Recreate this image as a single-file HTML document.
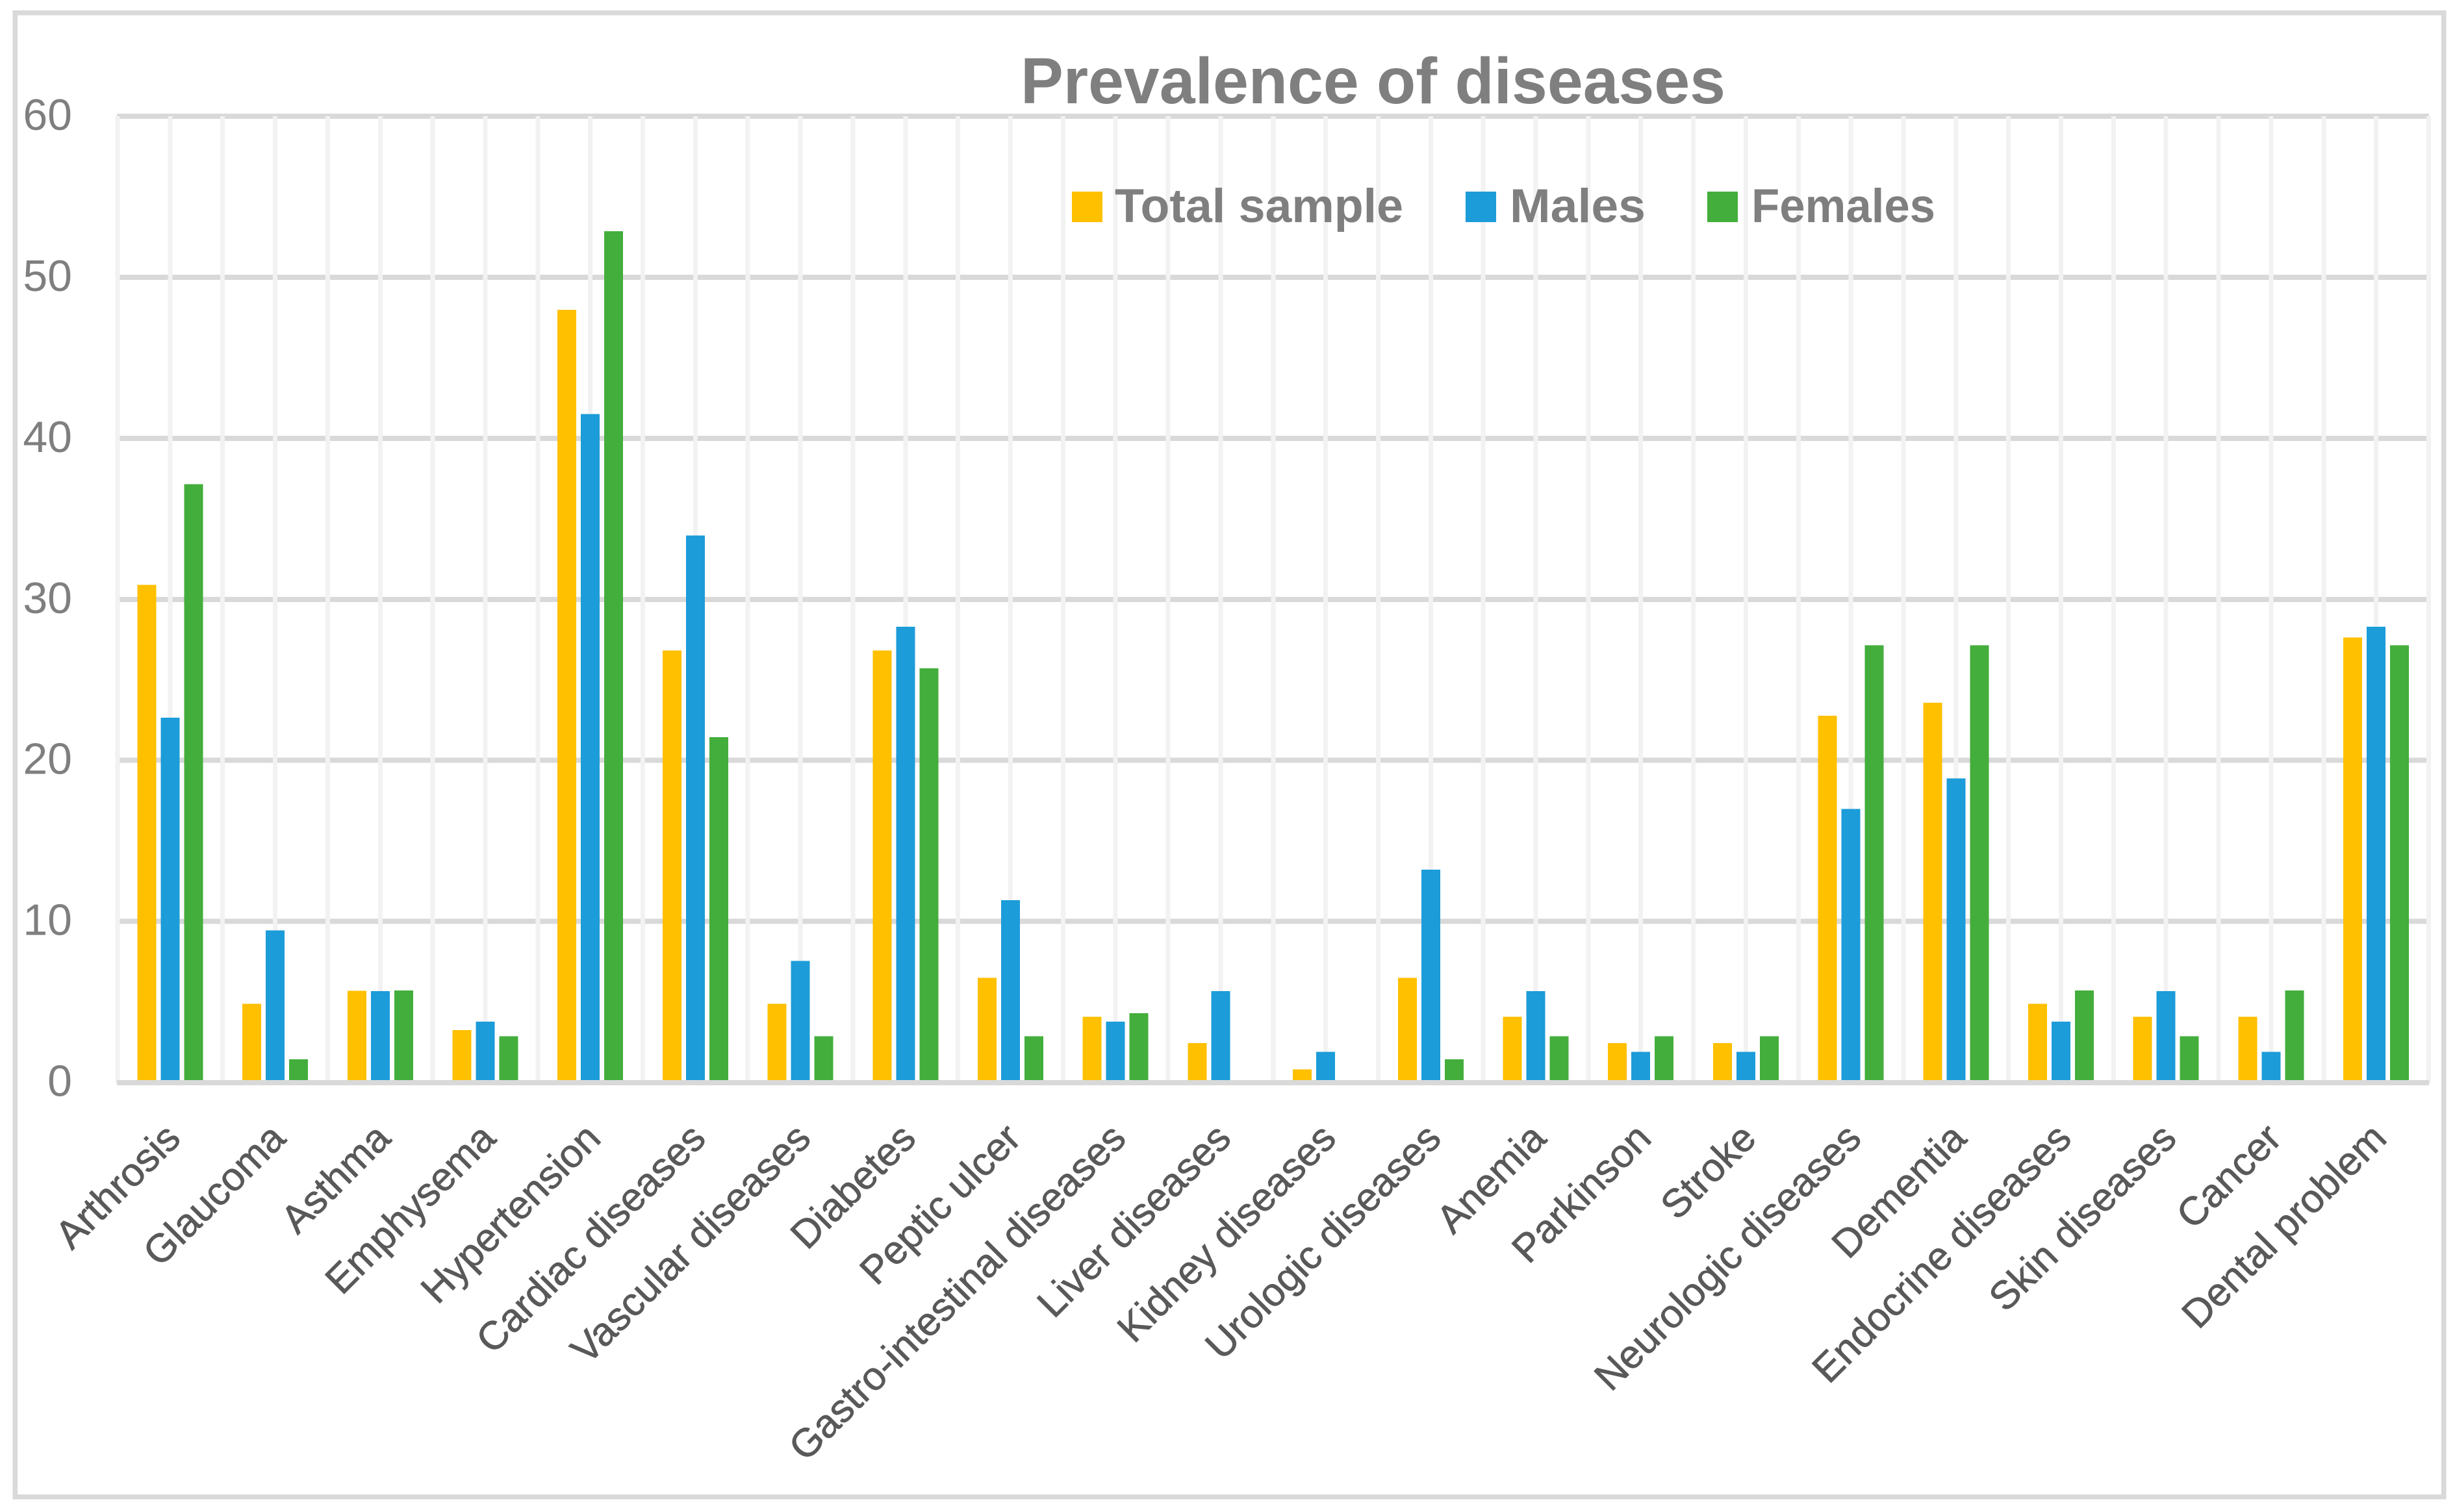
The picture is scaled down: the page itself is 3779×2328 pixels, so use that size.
<!DOCTYPE html>
<html>
<head>
<meta charset="utf-8">
<title>Prevalence of diseases</title>
<style>
html,body{margin:0;padding:0;background:#fff;}
svg{display:block;}
text{font-family:"Liberation Sans",sans-serif;}
rect{shape-rendering:crispEdges;}
</style>
</head>
<body>
<svg id="chart" xmlns="http://www.w3.org/2000/svg" width="3779" height="2328" viewBox="0 0 3779 2328">
  <rect x="0" y="0" width="3779" height="2328" fill="#ffffff"/>
  <rect x="23" y="19.5" width="3738.5" height="2285" fill="none" stroke="#d9d9d9" stroke-width="7.5"/>
  <g id="h-grid"></g>
  <g id="v-grid"></g>
  <g id="y-labels"></g>
  <g id="bars"></g>
  <rect x="180" y="1663" width="3559" height="8" fill="#d9d9d9"/>
  <g id="x-labels"></g>
  <text x="1571" y="159" font-size="100" font-weight="700" fill="#7f7f7f" textLength="1085" lengthAdjust="spacingAndGlyphs">Prevalence of diseases</text>
  <g>
    <g>
      <rect x="1650" y="295" width="47" height="47" fill="#ffc000"/>
      <text x="1716" y="342" font-size="73" font-weight="700" fill="#7f7f7f" textLength="444" lengthAdjust="spacingAndGlyphs">Total sample</text>
    </g>
    <g>
      <rect x="2256" y="295" width="47" height="47" fill="#1c9cd9"/>
      <text x="2324" y="342" font-size="73" font-weight="700" fill="#7f7f7f" textLength="209" lengthAdjust="spacingAndGlyphs">Males</text>
    </g>
    <g>
      <rect x="2628" y="295" width="47" height="47" fill="#43ae3b"/>
      <text x="2696" y="342" font-size="73" font-weight="700" fill="#7f7f7f" textLength="283" lengthAdjust="spacingAndGlyphs">Females</text>
    </g>
  </g>
</svg>
<script>
const categories = ["Arthrosis","Glaucoma","Asthma","Emphysema","Hypertension","Cardiac diseases","Vascular diseases","Diabetes","Peptic ulcer","Gastro-intestinal diseases","Liver diseases","Kidney diseases","Urologic diseases","Anemia","Parkinson","Stroke","Neurologic diseases","Dementia","Endocrine diseases","Skin diseases","Cancer","Dental problem"];
const totalSample = [30.89,4.88,5.69,3.25,47.97,26.83,4.88,26.83,6.5,4.07,2.44,0.81,6.5,4.07,2.44,2.44,22.76,23.58,4.88,4.07,4.07,27.64];
const males = [22.64,9.43,5.66,3.77,41.51,33.96,7.55,28.3,11.32,3.77,5.66,1.89,13.21,5.66,1.89,1.89,16.98,18.87,3.77,5.66,1.89,28.3];
const females = [37.14,1.43,5.71,2.86,52.86,21.43,2.86,25.71,2.86,4.29,0,0,1.43,2.86,2.86,2.86,27.14,27.14,5.71,2.86,5.71,27.14];
const yTicks = [0,10,20,30,40,50,60];

const NS = "http://www.w3.org/2000/svg";
const plotLeft = 181, plotRight = 3738.5, plotTop = 179, plotBottom = 1666.5;
const yMax = 60;
const catWidth = (plotRight - plotLeft) / categories.length;
const barWidth = 29, barPitch = 36;
const seriesList = [
  { key: "total-sample", values: totalSample, color: "#ffc000" },
  { key: "males", values: males, color: "#1c9cd9" },
  { key: "females", values: females, color: "#43ae3b" }
];
function yScale(v) { return plotBottom - (v / yMax) * (plotBottom - plotTop); }
function xCenter(i) { return plotLeft + catWidth * (i + 0.5); }
function make(tag, attrs) {
  const el = document.createElementNS(NS, tag);
  for (const k in attrs) el.setAttribute(k, attrs[k]);
  return el;
}

const hGrid = document.getElementById("h-grid");
const vGrid = document.getElementById("v-grid");
const yLabels = document.getElementById("y-labels");
const barsGroup = document.getElementById("bars");
const xLabels = document.getElementById("x-labels");

yTicks.forEach(function (t) {
  if (t !== 0) {
    const line = make("rect", { x: plotLeft - 1, y: yScale(t) - 4, width: plotRight - plotLeft + 1.5, height: 8, fill: "#d9d9d9" });
    
    
    hGrid.appendChild(line);
  }
  const label = make("text", { x: 111, y: yScale(t) + 21, "text-anchor": "end", "font-size": 68, fill: "#7f7f7f" });
  
  
  label.textContent = String(t);
  yLabels.appendChild(label);
});

for (let i = 0; i <= categories.length * 2; i++) {
  const gx = plotLeft + catWidth * i / 2;
  const vLine = make("rect", { x: gx - 3.5, y: plotTop, width: 7, height: plotBottom + 1.5 - plotTop, fill: "#f2f2f2" });
  
  
  vGrid.appendChild(vLine);
}

categories.forEach(function (name, i) {
  seriesList.forEach(function (s, j) {
    const v = s.values[i];
    const top = yScale(v);
    const bar = make("rect", {
      x: xCenter(i) + (j - 1) * barPitch - barWidth / 2,
      y: top,
      width: barWidth,
      height: Math.max(plotBottom - top, 0),
      fill: s.color
    });
    
    
    barsGroup.appendChild(bar);
  });
  const ax = xCenter(i) + 19, ay = 1756;
  const label = make("text", {
    x: ax, y: ay, "text-anchor": "end", "font-size": 61, fill: "#595959",
    stroke: "#595959", "stroke-width": 0.8,
    transform: "rotate(-45 " + ax + " " + ay + ")"
  });
  
  
  label.textContent = name;
  xLabels.appendChild(label);
});
</script>
</body>
</html>
